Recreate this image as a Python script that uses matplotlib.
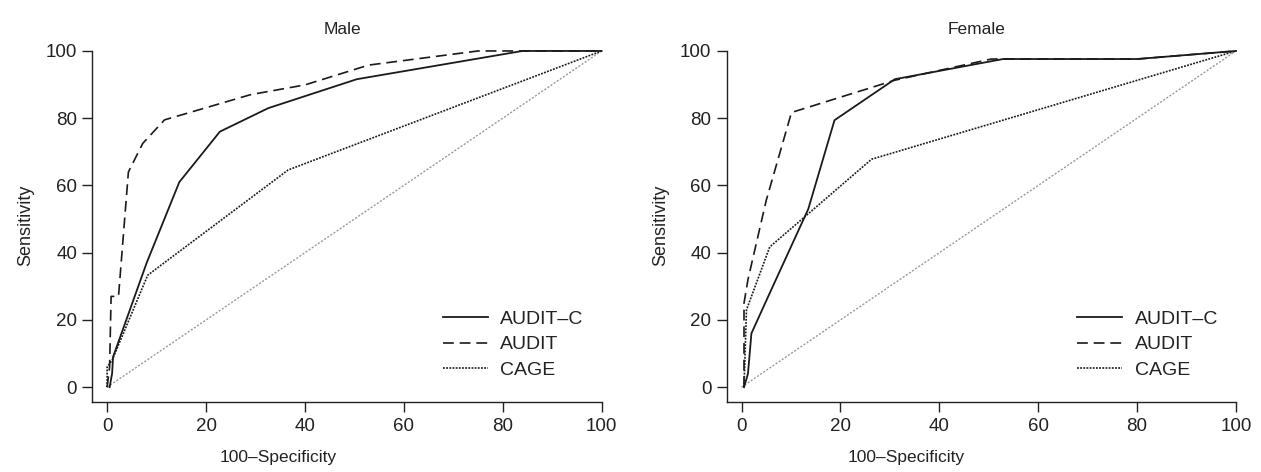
import matplotlib
matplotlib.use("Agg")
import matplotlib.pyplot as plt
from matplotlib import font_manager

names = {f.name for f in font_manager.fontManager.ttflist}
narrow = "Liberation Sans Narrow" if "Liberation Sans Narrow" in names else "Liberation Sans"
regular = "Liberation Sans"

# ---- data ----
panels = ["Male", "Female"]

male_auditc_x = [0.5, 1.0, 1.2, 8.0, 14.6, 22.8, 32.6, 50.5, 84.0, 100.0]
male_auditc_y = [0.0, 4.0, 9.0, 37.0, 61.0, 76.0, 83.0, 91.6, 100.0, 100.0]
male_audit_x = [0.0, 0.5, 0.8, 2.3, 4.3, 7.2, 11.6, 29.0, 40.0, 52.9, 75.0, 100.0]
male_audit_y = [0.0, 6.0, 27.0, 27.0, 64.0, 72.5, 79.5, 87.0, 89.9, 95.8, 100.0, 100.0]
male_cage_x = [0.0, 0.0, 1.0, 8.2, 36.6, 100.0]
male_cage_y = [0.0, 6.0, 8.0, 33.3, 64.6, 100.0]

female_auditc_x = [0.5, 1.3, 2.0, 5.4, 13.5, 18.8, 31.0, 52.9, 80.0, 100.0]
female_auditc_y = [0.0, 4.0, 16.0, 27.0, 53.0, 79.4, 91.6, 97.6, 97.6, 100.0]
female_audit_x = [0.5, 0.5, 1.3, 5.0, 10.1, 31.0, 50.5, 80.0, 100.0]
female_audit_y = [0.0, 25.0, 32.0, 55.6, 81.7, 91.3, 97.6, 97.6, 100.0]
female_cage_x = [0.5, 1.0, 5.7, 26.3, 100.0]
female_cage_y = [0.0, 23.0, 41.7, 67.8, 100.0]

ref_x = [0, 100]
ref_y = [0, 100]

series_labels = ["AUDIT\u2013C", "AUDIT", "CAGE"]
ticks = [0, 20, 40, 60, 80, 100]
xlabel = "100\u2013Specificity"
ylabel = "Sensitivity"

data = {
    "Male": [(male_auditc_x, male_auditc_y), (male_audit_x, male_audit_y), (male_cage_x, male_cage_y)],
    "Female": [(female_auditc_x, female_auditc_y), (female_audit_x, female_audit_y), (female_cage_x, female_cage_y)],
}

styles = [
    dict(color="#1a1a1a", lw=1.3, linestyle="-"),
    dict(color="#1a1a1a", lw=1.2, linestyle=(0, (6.5, 3.5))),
    dict(color="#1a1a1a", lw=1.2, linestyle=(0, (1.1, 0.8))),
]

fig = plt.figure(figsize=(12.61, 4.72), dpi=100)
lefts = [92.3 / 1261, 726.7 / 1261]
W = (609 - 92.3) / 1261
B = (472 - 402.3) / 472
H = (402.3 - 47.6) / 472
xlabel_pos = [0.359, 0.347]
title_pos = [0.485, 0.483]

for i, name in enumerate(panels):
    ax = fig.add_axes([lefts[i], B, W, H])
    ax.plot(ref_x, ref_y, color="#9a9a9a", lw=1.0, linestyle=(0, (1.5, 1.2)))
    for (xs, ys), st, lab in zip(data[name], styles, series_labels):
        ax.plot(xs, ys, label=lab, **st)
    ax.set_xlim(-3.0, 101.5)
    ax.set_ylim(-4.5, 101.0)
    for s in ["top", "right"]:
        ax.spines[s].set_visible(False)
    for s in ["left", "bottom"]:
        ax.spines[s].set_color("#222222")
        ax.spines[s].set_linewidth(1.0)
    ax.spines["left"].set_bounds(-4.5, 100)
    ax.spines["bottom"].set_bounds(-3.0, 100)
    ax.set_xticks(ticks)
    ax.set_yticks(ticks)
    ax.tick_params(length=7, width=1.0, color="#222222", labelsize=13.5, pad=4)
    for lbl in ax.get_xticklabels() + ax.get_yticklabels():
        lbl.set_fontfamily(narrow)
        lbl.set_color("#222222")
    ax.set_xlabel(xlabel, fontsize=12.5, family=narrow, color="#222222")
    ax.xaxis.set_label_coords(xlabel_pos[i], -0.135)
    ax.set_ylabel(ylabel, fontsize=13, family=regular, color="#222222", labelpad=8)
    ax.set_title(name, fontsize=12.5, family=regular, color="#222222", pad=10, x=title_pos[i])
    leg = ax.legend(loc="lower right", frameon=False, handlelength=2.3,
                    handletextpad=0.65, labelspacing=0.42, bbox_to_anchor=(0.985, 0.016),
                    prop={"family": regular, "size": 14})
    for t in leg.get_texts():
        t.set_color("#222222")

fig.savefig("out.png", dpi=100)
